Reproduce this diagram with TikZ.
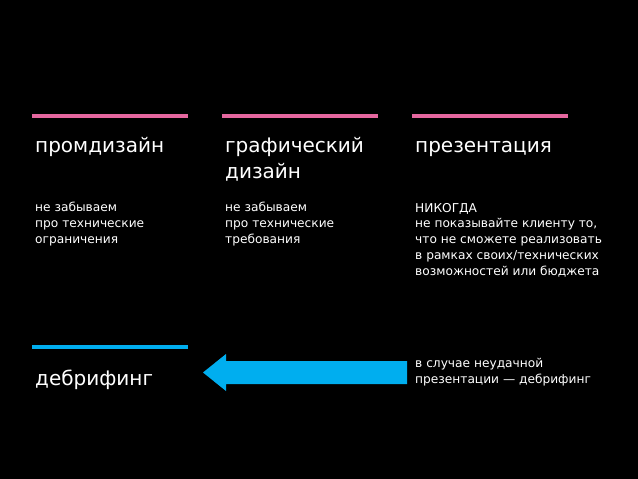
\documentclass[tikz,border=0pt]{standalone}
\usepackage{fontspec}
\setmainfont{DejaVu Sans}
\usetikzlibrary{positioning}
\definecolor{rozovyj}{HTML}{E5679F}
\definecolor{goluboj}{HTML}{00AEEF}
\tikzset{
	zagolovok/.style={anchor=base west, inner sep=0pt, text=white, align=left,
		font=\fontsize{20}{26}\selectfont},
	tekst/.style={anchor=base west, inner sep=0pt, text=white, align=left,
		font=\fontsize{12.2}{15.7}\selectfont},
	polosa/.style={line width=3.3pt, rozovyj}
}

\begin{document}
\begin{tikzpicture}[x=1pt, y=-1pt]
		\fill[black] (0, 0) rectangle (638, 479); % Фон
		\useasboundingbox (0, 0) rectangle (638, 479);
		
		\draw[polosa] (32, 116) -- (188, 116); 	% Полосы над колонками
		\draw[polosa] (222, 116) -- (378, 116);
		\draw[polosa] (412, 116) -- (568, 116);
		\draw[polosa, goluboj] (32, 347) -- (188, 347);
		
		% base у многострочных узлов -- по последней строке
		\node[zagolovok] (prom) at (35, 152) {промдизайн};
		\node[zagolovok] (graf) at (225, 178) {графический\\дизайн};
		\node[zagolovok] (prez) at (415, 152) {презентация};
		\node[zagolovok] (debr) at (35, 385) {дебрифинг};
		
		\node[tekst] (promtxt) at (35, 243) {не забываем\\про технические\\ограничения};
		\node[tekst] (graftxt) at (225, 243) {не забываем\\про технические\\требования};
		\node[tekst] (preztxt) at (415, 275) {НИКОГДА\\не показывайте клиенту то,\\что не сможете реализовать\\в рамках своих/технических\\возможностей или бюджета};
		\node[tekst] (neudach) at (415, 383) {в случае неудачной\\презентации — дебрифинг};
		
		% Стрелка
		\fill[goluboj] (407, 361) -- (226, 361) -- (226, 354) -- (203, 372.5)
			-- (226, 391) -- (226, 384) -- (407, 384) -- cycle;
	\end{tikzpicture}
\end{document}
